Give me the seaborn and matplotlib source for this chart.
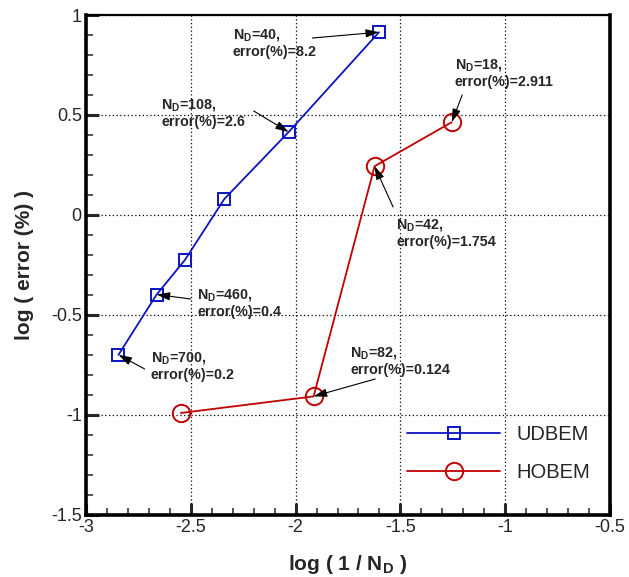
import matplotlib
matplotlib.use("Agg")
import matplotlib.pyplot as plt
from matplotlib.ticker import MultipleLocator
import numpy as np
import pandas as pd
import seaborn as sns

# Convergence data: log10(1/N_D) vs log10(error %)
udbem_x = [-2.845, -2.663, -2.528, -2.340, -2.033, -1.602]
udbem_y = [-0.699, -0.398, -0.225, 0.080, 0.415, 0.914]
hobem_x = [-2.547, -1.914, -1.623, -1.255]
hobem_y = [-0.990, -0.907, 0.244, 0.464]

# Annotations: (label N_D, error %, series, index of point)
ann_nd = ["40", "108", "460", "700", "18", "42", "82"]
ann_err = ["8.2", "2.6", "0.4", "0.2", "2.911", "1.754", "0.124"]
ann_series = ["U", "U", "U", "U", "H", "H", "H"]
ann_idx = [5, 4, 1, 0, 3, 2, 1]
# text anchor (top-left) and arrow tail, in data units
ann_text_xy = [(-2.30, 0.94), (-2.64, 0.59), (-2.47, -0.36), (-2.69, -0.675),
               (-1.24, 0.79), (-1.52, -0.01), (-1.74, -0.65)]
ann_tail_xy = [(-1.92, 0.885), (-2.20, 0.52), (-2.50, -0.42), (-2.72, -0.77),
               (-1.205, 0.60), (-1.535, 0.04), (-1.62, -0.82)]

sns.set_style("white")
plt.rcParams["font.family"] = ["Liberation Sans", "DejaVu Sans"]
plt.rcParams["mathtext.fontset"] = "custom"
plt.rcParams["mathtext.rm"] = "Liberation Sans"
plt.rcParams["mathtext.bf"] = "Liberation Sans:bold"

fig = plt.figure(figsize=(6.29, 5.77), dpi=100)
ax = fig.add_axes([0.1367, 0.1075, 0.8331, 0.8665])

blue = "#0a14c0"
red = "#c00000"

df_u = pd.DataFrame({"x": udbem_x, "y": udbem_y})
df_h = pd.DataFrame({"x": hobem_x, "y": hobem_y})
sns.lineplot(data=df_u, x="x", y="y", ax=ax, color=blue, lw=1.3, sort=False,
             marker="s", markersize=8.5, markerfacecolor="none",
             markeredgecolor=blue, markeredgewidth=1.4, label="UDBEM")
sns.lineplot(data=df_h, x="x", y="y", ax=ax, color=red, lw=1.3, sort=False,
             marker="o", markersize=12.5, markerfacecolor="none",
             markeredgecolor=red, markeredgewidth=1.4, label="HOBEM")

ax.set_xlim(-3, -0.5)
ax.set_ylim(-1.5, 1)
ax.xaxis.set_minor_locator(MultipleLocator(0.1))
ax.yaxis.set_minor_locator(MultipleLocator(0.1))
ax.set_xticks(np.arange(-3, -0.49, 0.5))
ax.set_xticklabels(["-3", "-2.5", "-2", "-1.5", "-1", "-0.5"])
ax.set_yticks(np.arange(-1.5, 1.01, 0.5))
ax.set_yticklabels(["-1.5", "-1", "-0.5", "0", "0.5", "1"])

ax.grid(True, which="major", color="black", linestyle=(0, (1, 2)), lw=0.9)
ax.tick_params(which="major", direction="in", length=9, width=2.2,
               labelsize=13, pad=3, bottom=True, left=True, top=False, right=False)
ax.tick_params(which="minor", direction="in", length=5, width=1.1,
               bottom=True, left=True, top=False, right=False)
for side, lw in [("left", 2.6), ("bottom", 2.6), ("right", 2.6), ("top", 1.6)]:
    ax.spines[side].set_visible(True)
    ax.spines[side].set_linewidth(lw)
    ax.spines[side].set_color("black")

ax.set_xlabel(r"log ( 1 / N$_\mathbf{D}$ )", fontsize=15, fontweight="bold", labelpad=12)
ax.set_ylabel("log ( error (%) )", fontsize=15, fontweight="bold", labelpad=12)

series = {"U": (udbem_x, udbem_y), "H": (hobem_x, hobem_y)}
for nd, err, s, i, txy, tail in zip(ann_nd, ann_err, ann_series, ann_idx,
                                     ann_text_xy, ann_tail_xy):
    px, py = series[s][0][i], series[s][1][i]
    ax.text(txy[0], txy[1], "N$_\\mathbf{D}$=" + nd + ",\nerror(%)=" + err,
            fontsize=10.3, fontweight="bold", ha="left", va="top",
            linespacing=1.2)
    ax.annotate("", xy=(px, py), xytext=tail,
                arrowprops=dict(arrowstyle="-|>,head_length=0.8,head_width=0.25",
                                color="black", lw=0.8, shrinkA=0, shrinkB=0))

leg = ax.legend(loc="lower right", bbox_to_anchor=(0.996, 0.03), frameon=False,
                fontsize=14.5, handlelength=4.6, handletextpad=0.8,
                labelspacing=0.95)

fig.savefig("out.png", dpi=100)
